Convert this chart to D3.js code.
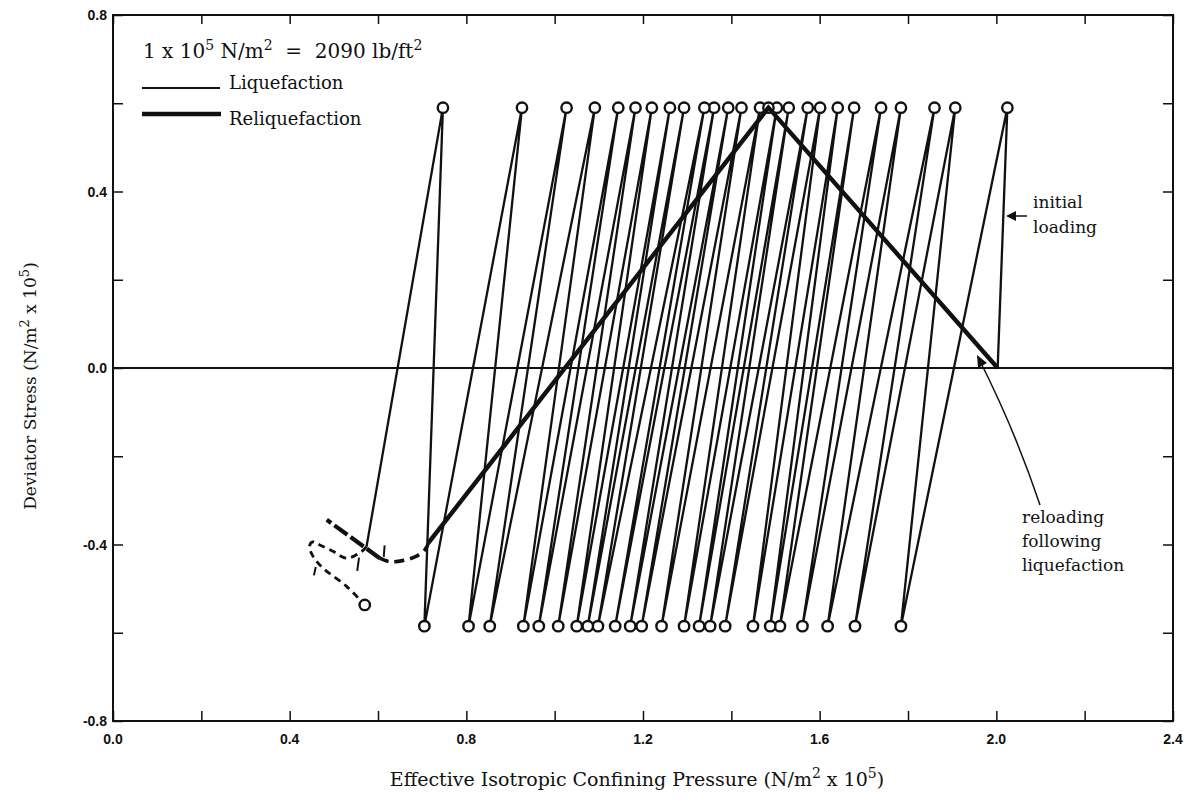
<!DOCTYPE html>
<html>
<head>
<meta charset="utf-8">
<script src="https://cdn.jsdelivr.net/npm/d3@7"></script>
<style>
  body { margin: 0; background: #fff; }
  svg text { fill: #111; }
</style>
</head>
<body>
<div id="chart"></div>
<script>
// axis ticks / labels
const xTicks = [0, 0.2, 0.4, 0.6, 0.8, 1.0, 1.2, 1.4, 1.6, 1.8, 2.0, 2.2, 2.4];
const xLabels = [0.0, 0.4, 0.8, 1.2, 1.6, 2.0, 2.4];
const yTicks = [-0.8, -0.6, -0.4, -0.2, 0, 0.2, 0.4, 0.6, 0.8];
const yLabels = [0.8, 0.4, 0.0, -0.4, -0.8];

// liquefaction test: pressure at each stress peak / trough, in loading order
const topX = [2.025, 1.907, 1.860, 1.784, 1.739, 1.678, 1.641, 1.601, 1.573, 1.530,
  1.503, 1.465, 1.423, 1.393, 1.361, 1.339, 1.293, 1.261, 1.220, 1.183,
  1.144, 1.091, 1.027, 0.926, 0.747];
const bottomX = [1.784, 1.680, 1.618, 1.561, 1.510, 1.488, 1.449, 1.386, 1.352, 1.327,
  1.293, 1.242, 1.197, 1.171, 1.137, 1.098, 1.075, 1.050, 1.008, 0.964,
  0.929, 0.853, 0.805, 0.705];
const topStress = 0.59;
const bottomStress = -0.585;
const startPoint = [2.003, 0.0];
const liqEnd = [0.574, -0.405];
// dashed tail of the liquefaction curve (ends on a circle)
const liqTail = [[0.574, -0.405], [0.563, -0.416], [0.529, -0.431], [0.499, -0.416],
  [0.468, -0.401], [0.452, -0.394], [0.445, -0.404], [0.453, -0.427],
  [0.476, -0.454], [0.529, -0.495], [0.570, -0.537]];
// small slash marks on the tail
const tailMarks = [[[0.615, -0.402], [0.613, -0.428]], [[0.557, -0.430], [0.553, -0.460]],
  [[0.459, -0.451], [0.455, -0.470]]];

// reliquefaction test (heavy line)
const reliqPath = [[2.003, 0.0], [1.484, 0.59], [0.715, -0.395]];
const reliqCurve = [[0.715, -0.395], [0.706, -0.412], [0.686, -0.427], [0.658, -0.436],
  [0.627, -0.439], [0.604, -0.431]];
const reliqTail = [[0.604, -0.431], [0.484, -0.344]];

const W = 1188, H = 798;
const svg = d3.select('#chart').append('svg')
  .attr('width', W).attr('height', H)
  .style('font-family', '"DejaVu Serif", "Liberation Serif", serif');

const x = d3.scaleLinear().domain([0, 2.4]).range([113, 1173]);
const y = d3.scaleLinear().domain([-0.8, 0.8]).range([721, 15]);

const fmt = v => (v < 0 ? '-' : '') + Math.abs(v).toFixed(1);

// frame
svg.append('rect')
  .attr('x', x(0)).attr('y', y(0.8))
  .attr('width', x(2.4) - x(0)).attr('height', y(-0.8) - y(0.8))
  .attr('fill', 'none').attr('stroke', '#111').attr('stroke-width', 2);

// ticks pointing inward on all four sides
function tickAxis(axis, tr) {
  const g = svg.append('g').attr('transform', tr).call(axis);
  g.select('.domain').remove();
  g.selectAll('.tick line').attr('stroke', '#111').attr('stroke-width', 1.5);
  g.selectAll('.tick text').remove();
}
tickAxis(d3.axisBottom(x).tickValues(xTicks).tickSize(-10), `translate(0,${y(-0.8)})`);
tickAxis(d3.axisTop(x).tickValues(xTicks).tickSize(-9), `translate(0,${y(0.8)})`);
tickAxis(d3.axisLeft(y).tickValues(yTicks).tickSize(-10), `translate(${x(0)},0)`);
tickAxis(d3.axisRight(y).tickValues(yTicks).tickSize(-10), `translate(${x(2.4)},0)`);

// tick labels
const labelFont = '"Liberation Sans Narrow", "Liberation Sans", sans-serif';
svg.append('g').selectAll('text').data(xLabels).join('text')
  .attr('x', d => x(d)).attr('y', y(-0.8) + 23)
  .attr('text-anchor', 'middle')
  .style('font-family', labelFont).style('font-weight', 'bold').style('font-size', '14px')
  .text(fmt);
svg.append('g').selectAll('text').data(yLabels).join('text')
  .attr('x', x(0) - 6).attr('y', d => y(d) + 5)
  .attr('text-anchor', 'end')
  .style('font-family', labelFont).style('font-weight', 'bold').style('font-size', '14px')
  .text(fmt);

// zero line
svg.append('line')
  .attr('x1', x(0)).attr('x2', x(2.4)).attr('y1', y(0)).attr('y2', y(0))
  .attr('stroke', '#111').attr('stroke-width', 2);

// axis titles
const xt = svg.append('text')
  .attr('x', 637).attr('y', 786).attr('text-anchor', 'middle')
  .style('font-size', '19px');
xt.append('tspan').text('Effective Isotropic Confining Pressure (N/m');
xt.append('tspan').attr('dy', -8).style('font-size', '14px').text('2');
xt.append('tspan').attr('dy', 8).text(' x 10');
xt.append('tspan').attr('dy', -8).style('font-size', '14px').text('5');
xt.append('tspan').attr('dy', 8).text(')');

const yt = svg.append('text')
  .attr('transform', `translate(36,386) rotate(-90)`)
  .attr('text-anchor', 'middle')
  .style('font-size', '17px');
yt.append('tspan').text('Deviator Stress (N/m');
yt.append('tspan').attr('dy', -7).style('font-size', '13px').text('2');
yt.append('tspan').attr('dy', 7).text(' x 10');
yt.append('tspan').attr('dy', -7).style('font-size', '13px').text('5');
yt.append('tspan').attr('dy', 7).text(')');

// build liquefaction zigzag
const liqPts = [startPoint];
topX.forEach((t, i) => {
  liqPts.push([t, topStress]);
  if (i < bottomX.length) liqPts.push([bottomX[i], bottomStress]);
});
liqPts.push(liqEnd);

const line = d3.line().x(d => x(d[0])).y(d => y(d[1]));
const curve = d3.line().x(d => x(d[0])).y(d => y(d[1])).curve(d3.curveCatmullRom);

svg.append('path').attr('d', line(liqPts))
  .attr('fill', 'none').attr('stroke', '#111').attr('stroke-width', 2.3)
  .attr('stroke-linejoin', 'round');
svg.append('path').attr('d', curve(liqTail))
  .attr('fill', 'none').attr('stroke', '#111').attr('stroke-width', 2.8)
  .attr('stroke-dasharray', '7,5');
tailMarks.forEach(m => {
  svg.append('path').attr('d', line(m)).attr('stroke', '#111').attr('stroke-width', 2);
});

// circles at peaks and troughs
const circlePts = topX.map(t => [t, topStress])
  .concat(bottomX.map(b => [b, bottomStress]))
  .concat([[1.484, 0.59], liqTail[liqTail.length - 1]]);
svg.append('g').selectAll('circle').data(circlePts).join('circle')
  .attr('cx', d => x(d[0])).attr('cy', d => y(d[1])).attr('r', 5.2)
  .attr('fill', '#fff').attr('stroke', '#111').attr('stroke-width', 2.4);

// reliquefaction (drawn over the circles, its apex fills the peak marker)
svg.append('path').attr('d', line(reliqPath))
  .attr('fill', 'none').attr('stroke', '#111').attr('stroke-width', 4.4)
  .attr('stroke-linejoin', 'miter');
svg.append('path').attr('d', curve(reliqCurve))
  .attr('fill', 'none').attr('stroke', '#111').attr('stroke-width', 3.6)
  .attr('stroke-dasharray', '10,6');
svg.append('path').attr('d', line(reliqTail))
  .attr('fill', 'none').attr('stroke', '#111').attr('stroke-width', 4.2)
  .attr('stroke-dasharray', '16,4');

// legend
const lt = svg.append('text').attr('x', 143).attr('y', 58).style('font-size', '20px')
  .attr('xml:space', 'preserve');
lt.append('tspan').text('1 x 10');
lt.append('tspan').attr('dy', -8).style('font-size', '14px').text('5');
lt.append('tspan').attr('dy', 8).text(' N/m');
lt.append('tspan').attr('dy', -8).style('font-size', '14px').text('2');
lt.append('tspan').attr('dy', 8).text('  =  2090 lb/ft');
lt.append('tspan').attr('dy', -8).style('font-size', '14px').text('2');

svg.append('line').attr('x1', 142).attr('x2', 220).attr('y1', 88).attr('y2', 88)
  .attr('stroke', '#111').attr('stroke-width', 2.2);
svg.append('text').attr('x', 229).attr('y', 89).style('font-size', '18px').text('Liquefaction');
svg.append('line').attr('x1', 142).attr('x2', 221).attr('y1', 114).attr('y2', 114)
  .attr('stroke', '#111').attr('stroke-width', 4.5);
svg.append('text').attr('x', 229).attr('y', 125).style('font-size', '18px').text('Reliquefaction');

// annotations
svg.append('text').attr('x', 1033).attr('y', 208).style('font-size', '17px').text('initial');
svg.append('text').attr('x', 1033).attr('y', 233).style('font-size', '17px').text('loading');
svg.append('line').attr('x1', 1027).attr('x2', 1012).attr('y1', 216).attr('y2', 216)
  .attr('stroke', '#111').attr('stroke-width', 1.5);
svg.append('path').attr('d', 'M1006,216 L1016,211 L1016,221 Z').attr('fill', '#111');

svg.append('text').attr('x', 1022).attr('y', 523).style('font-size', '17px').text('reloading');
svg.append('text').attr('x', 1022).attr('y', 547).style('font-size', '17px').text('following');
svg.append('text').attr('x', 1022).attr('y', 571).style('font-size', '17px').text('liquefaction');
svg.append('path').attr('d', 'M1040,505 Q1015,430 978,357')
  .attr('fill', 'none').attr('stroke', '#111').attr('stroke-width', 1.5);
svg.append('path').attr('d', 'M977,355 L978,368 L987,363 Z').attr('fill', '#111');
</script>
</body>
</html>
